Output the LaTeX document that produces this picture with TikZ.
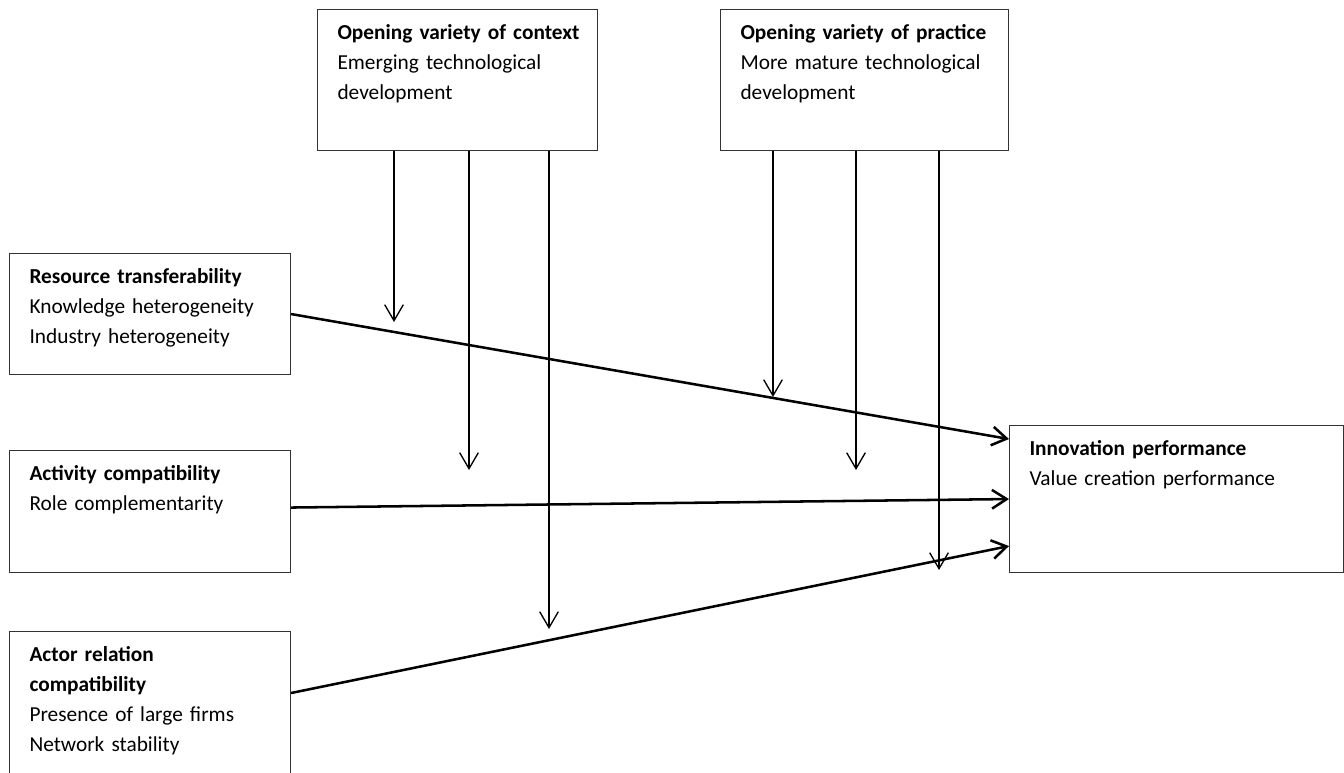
\documentclass[tikz,border=0pt]{standalone}
\usepackage{fontspec}
\setmainfont{Carlito}
\usetikzlibrary{arrows.meta,calc}

\begin{document}
\begin{tikzpicture}[x=0.75pt,y=-0.75pt]
		\tikzstyle {box} = [draw=black!80, line width=0.8pt, anchor=north west, inner xsep=15pt, inner ysep=0pt, align=left, text height=22.5pt, font=\fontsize{16}{22.5}\selectfont]
		\tikzstyle {main line} = [line width=1.9pt, -{Straight Barb[length=11pt,width=14pt]}]
		\tikzstyle {mod line} = [line width=1pt, -{Straight Barb[length=12pt,width=14pt]}]

		\useasboundingbox (0,0) rectangle (1344,772);

		\node[box, text width=180pt, text depth=83.25pt] (context) at (317,9) {\mbox{\textbf{Opening variety of context}}\\Emerging technological\\development};
		\node[box, text width=186pt, text depth=83.25pt] (practice) at (720,9) {\mbox{\textbf{Opening variety of practice}}\\More mature technological\\development};

		\node[box, text width=180.75pt, text depth=68.25pt] (resource) at (9,253) {\mbox{\textbf{Resource transferability}}\\Knowledge heterogeneity\\Industry heterogeneity};
		\node[box, text width=180.75pt, text depth=69pt] (activity) at (9,450) {\mbox{\textbf{Activity compatibility}}\\Role complementarity};
		\node[box, text width=180.75pt, text depth=105pt] (relation) at (9,631) {\textbf{Actor relation}\\\textbf{compatibility}\\Presence of large firms\\Network stability};

		\node[box, text width=220.5pt, text depth=87.75pt] (innovation) at (1009,425) {\mbox{\textbf{Innovation performance}}\\Value creation performance};

		\draw[main line] (resource.east) -- ($(innovation.west)+(0,-60)$);
		\draw[main line] ($(activity.east)+(0,-4)$) -- (innovation.west);
		\draw[main line] ($(relation.north east)+(0,62)$) -- ($(innovation.west)+(0,47)$);

		\coordinate (c1) at (394,322);
		\coordinate (c2) at (469,470);
		\coordinate (c3) at (549,629);
		\draw[mod line] (c1 |- context.south) -- (c1);
		\draw[mod line] (c2 |- context.south) -- (c2);
		\draw[mod line] (c3 |- context.south) -- (c3);

		\coordinate (p1) at (773,397);
		\coordinate (p2) at (856,470);
		\coordinate (p3) at (939,570);
		\draw[mod line] (p1 |- practice.south) -- (p1);
		\draw[mod line] (p2 |- practice.south) -- (p2);
		\draw[mod line] (p3 |- practice.south) -- (p3);

	\end{tikzpicture}
\end{document}
